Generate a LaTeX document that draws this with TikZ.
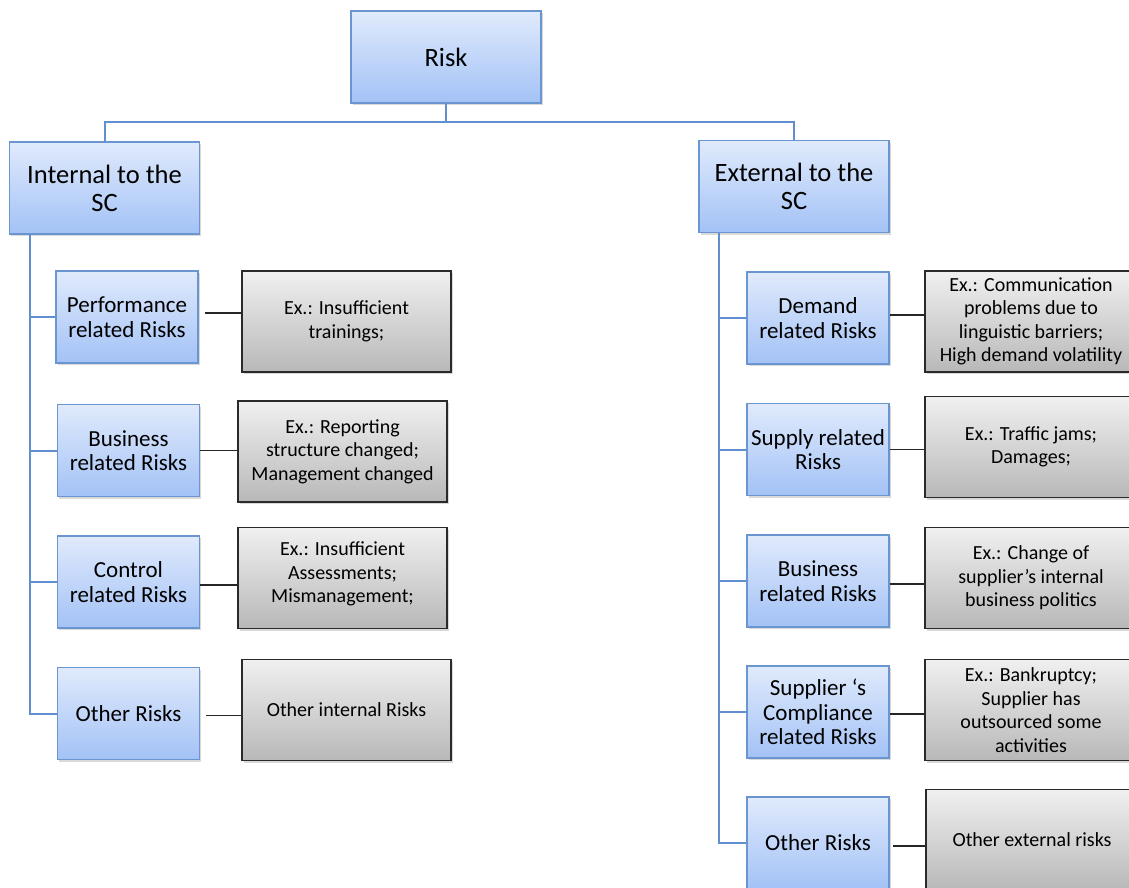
\documentclass[tikz,border=0pt]{standalone}
\usepackage{fontspec}
\setmainfont{Carlito}
\usetikzlibrary{shadows}
\definecolor{bordblue}{HTML}{6A95CF}
\definecolor{topblue}{HTML}{E0EAFC}
\definecolor{botblue}{HTML}{A3C2F6}
\definecolor{linkblue}{HTML}{5F8FCF}
\definecolor{topgrey}{HTML}{F0F0F0}
\definecolor{botgrey}{HTML}{B8B8B8}
\definecolor{bordgrey}{HTML}{2A2A2A}
\begin{document}
\begin{tikzpicture}[x=1pt,y=-1pt,
  shd/.style={drop shadow={shadow xshift=1.5pt,shadow yshift=-2pt,opacity=0.25,fill=black!60}},
  topbox/.style={draw=bordblue,line width=1.5pt,top color=topblue,bottom color=botblue,shd,
    align=center,inner sep=0pt,minimum width=190pt,minimum height=92pt,font=\fontsize{26.5}{28}\selectfont},
  bluebox/.style={draw=bordblue,line width=1.5pt,top color=topblue,bottom color=botblue,shd,
    align=center,inner sep=0pt,minimum width=142pt,minimum height=92pt,font=\fontsize{23}{24.5}\selectfont},
  greybox/.style={draw=bordgrey,line width=1.5pt,top color=topgrey,bottom color=botgrey,shd,
    align=center,inner sep=0pt,minimum width=209pt,minimum height=101pt,font=\fontsize{20}{23.5}\selectfont},
  tree/.style={draw=linkblue,line width=2pt},
  link/.style={draw=black!85,line width=1.5pt}]
\useasboundingbox (0,0) rectangle (1129,888);

% top level
\node[topbox] (risk) at (446,57) {Risk};
\node[topbox] (int) at (104.5,188) {Internal to the\\SC};
\node[topbox] (ext) at (794,186.5) {External to the\\SC};

% internal children
\node[bluebox] (perf) at (127,317) {Performance\\related Risks};
\node[bluebox] (ibus) at (128.5,450.5) {Business\\related Risks};
\node[bluebox] (ctrl) at (128.5,582) {Control\\related Risks};
\node[bluebox] (ioth) at (128.5,713.5) {Other Risks};

\node[greybox] (perfx) at (346.5,321.5) {Ex.: Insufficient\\trainings;};
\node[greybox] (ibusx) at (342.5,451.5) {Ex.: Reporting\\structure changed;\\Management changed};
\node[greybox] (ctrlx) at (342.5,578) {Ex.: Insufficient\\Assessments;\\Mismanagement;\\[-12pt]};
\node[greybox] (iothx) at (346.5,710) {Other internal Risks};

% external children
\node[bluebox] (dem) at (818,318) {Demand\\related Risks};
\node[bluebox] (sup) at (818,449.5) {Supply related\\Risks};
\node[bluebox] (ebus) at (818,581) {Business\\related Risks};
\node[bluebox] (comp) at (818,712) {Supplier `s\\Compliance\\related Risks};
\node[bluebox] (eoth) at (818,843) {Other Risks};

\node[greybox,minimum width=212pt] (demx) at (1031,321.5) {Ex.: Communication\\problems due to\\linguistic barriers;\\High demand volatility};
\node[greybox,minimum width=212pt] (supx) at (1031,447) {Ex.: Traffic jams;\\Damages;};
\node[greybox,minimum width=212pt] (ebusx) at (1031,578) {Ex.: Change of\\supplier’s internal\\business politics};
\node[greybox,minimum width=212pt] (compx) at (1031,710) {Ex.: Bankruptcy;\\Supplier has\\outsourced some\\activities};
\node[greybox,minimum width=212pt] (eothx) at (1032,840) {Other external risks};

% tree connectors
\coordinate (bus) at (446,122);
\coordinate (lt) at (30,234);
\coordinate (rt) at (719,233);
\path[tree] (risk.south) -- (bus);
\path[tree] (int.north) |- (bus) -| (ext.north);
\path[tree] (lt) |- (perf.west);
\path[tree] (lt) |- (ibus.west);
\path[tree] (lt) |- (ctrl.west);
\path[tree] (lt) |- (ioth.west);
\path[tree] (rt) |- (dem.west);
\path[tree] (rt) |- (sup.west);
\path[tree] (rt) |- (ebus.west);
\path[tree] (rt) |- (comp.west);
\path[tree] (rt) |- (eoth.west);

% example connectors
\path[link,shorten <=6pt] ([yshift=4pt]perf.east) -- ([yshift=4pt]perf.east -| perfx.west);
\path[link] (ibus.east) -- (ibus.east -| ibusx.west);
\path[link] ([yshift=-3pt]ctrl.east) -- ([yshift=-3pt]ctrl.east -| ctrlx.west);
\path[link,shorten <=6pt] ([yshift=-2pt]ioth.east) -- ([yshift=-2pt]ioth.east -| iothx.west);
\path[link] ([yshift=3pt]dem.east) -- ([yshift=3pt]dem.east -| demx.west);
\path[link] (sup.east) -- (sup.east -| supx.west);
\path[link] ([yshift=-3pt]ebus.east) -- ([yshift=-3pt]ebus.east -| ebusx.west);
\path[link] ([yshift=-2pt]comp.east) -- ([yshift=-2pt]comp.east -| compx.west);
\path[link,shorten <=3pt] ([yshift=-3pt]eoth.east) -- ([yshift=-3pt]eoth.east -| eothx.west);
\end{tikzpicture}
\end{document}
